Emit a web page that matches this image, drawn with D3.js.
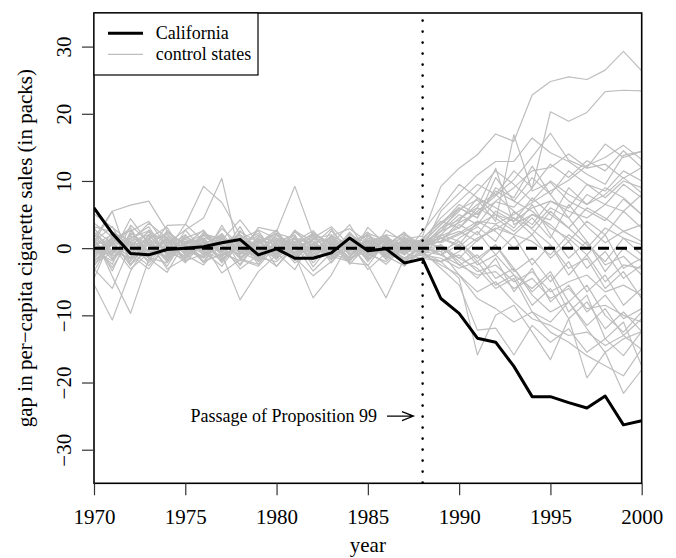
<!DOCTYPE html>
<html>
<head>
<meta charset="utf-8">
<script src="https://cdn.jsdelivr.net/npm/d3@7"></script>
<style>
  html, body { margin: 0; padding: 0; background: #fff; }
  svg { display: block; }
  text { font-family: "Liberation Serif", "Times New Roman", serif; fill: #000; }
</style>
</head>
<body>
<svg id="chart" width="676" height="558"></svg>
<script>
const years = d3.range(1970, 2001);
const xTicks = [1970, 1975, 1980, 1985, 1990, 1995, 2000];
const yTicks = [-30, -20, -10, 0, 10, 20, 30];
const treatYear = 1988;

const californiaGap = [6.0, 2.2, -0.8, -1.0, -0.2, 0.0, 0.2, 0.8, 1.3, -1.0, -0.1, -1.5, -1.5, -0.7, 1.5, -0.4, -0.1, -2.2, -1.6,
  -7.5, -9.7, -13.4, -14.0, -17.6, -22.1, -22.1, -23.0, -23.8, -22.0, -26.3, -25.7];

const controlGaps = [
  [3.2,2.4,1.0,-0.5,-1.2,0.8,2.0,1.5,-1.5,0.6,2.2,1.4,-0.6,1.8,2.9,0.9,2.0,1.4,1.8, 9.2,11.9,13.9,17.0,15.9,22.8,24.8,25.5,25.1,26.5,29.3,26.4],
  [-2.0,0.9,3.0,-1.2,1.6,-0.7,0.5,2.1,-2.6,1.1,0.6,-1.6,2.4,0.4,-1.3,1.8,0.8,-0.6,0.8, 2.5,3.8,5.2,6.9,6.1,8.9,20.3,18.9,20.2,23.3,23.5,23.4],
  [1.4,-3.4,2.5,4.0,0.3,-2.2,1.2,-0.7,3.2,-1.4,0.9,2.0,-2.8,0.6,3.5,-0.9,1.6,-1.9,1.0, 3.5,5.8,7.2,4.0,16.9,8.5,9.8,7.0,5.6,4.1,7.3,5.0],
  [-4.5,1.7,-1.0,-3.1,0.7,2.7,-0.4,1.4,-1.6,-2.4,1.0,0.4,2.2,-1.2,-2.0,1.5,-0.9,0.6,-0.4, 1.8,3.0,5.5,7.8,10.2,13.6,17.1,13.1,11.9,12.5,10.4,12.0],
  [2.8,0.7,-2.0,1.5,3.1,-1.0,-2.5,0.7,2.0,0.2,-1.4,2.6,1.0,-1.7,0.5,2.4,-1.5,1.0,-0.2, 5.5,8.2,10.9,12.9,12.9,16.4,14.2,12.9,11.0,9.5,13.8,14.4],
  [0.9,5.5,-2.5,1.4,-0.5,3.6,1.0,-2.0,1.5,-0.7,2.6,-1.4,0.4,2.9,-1.0,0.7,1.9,-2.2,0.6, 2.0,4.5,6.0,11.9,3.5,5.0,4.2,9.0,6.5,8.0,10.5,8.2],
  [-0.7,1.5,0.5,-1.9,2.4,0.4,-1.4,3.4,-0.9,1.2,-2.7,0.7,1.7,-0.5,1.0,-1.7,0.4,2.2,0.4, 1.0,2.2,4.0,3.6,5.0,6.8,8.5,10.1,12.3,13.5,15.3,13.2],
  [2.0,-0.9,4.4,0.7,-2.7,1.5,2.6,-1.2,0.4,1.9,-0.7,-3.2,1.4,0.9,-1.5,3.1,0.5,-1.0,1.5, 3.8,6.0,4.5,9.0,7.5,12.2,8.0,4.5,1.0,-2.5,-1.2,-4.0],
  [-3.1,-6.0,0.4,-1.5,-3.6,1.0,-0.5,-2.7,0.9,-1.4,-2.0,0.5,-3.4,-0.7,-1.9,0.4,-1.2,-2.6,-0.3, 0.5,-1.5,1.2,3.0,2.0,4.5,1.5,6.5,3.2,0.8,2.5,1.0],
  [5.1,3.1,0.9,3.7,1.5,-0.4,2.2,1.2,4.2,0.7,2.7,-0.9,1.5,3.2,0.4,1.9,-0.5,1.4,0.6, -1.0,1.5,3.2,1.0,5.5,2.8,0.5,-3.0,-1.5,-6.0,-3.5,-7.5],
  [-1.5,1.0,-2.4,-0.4,1.4,-1.9,-0.9,0.5,-3.1,-1.0,0.7,-2.2,-0.4,1.2,-1.5,-0.5,-2.4,0.4,-0.8, -2.5,-4.0,-6.5,-5.0,-8.0,-10.5,-11.5,-13.0,-12.5,-14.5,-13.0,-15.1],
  [0.7,-2.9,1.5,2.6,-1.0,0.4,-2.0,1.7,-0.7,1.4,-1.5,0.9,2.0,-1.2,0.5,-2.6,1.0,-0.4,-0.5, -3.0,-5.5,-12.2,-11.9,-15.9,-11.5,-14.0,-12.0,-15.5,-13.5,-16.0,-12.4],
  [-5.4,-10.7,-3.4,0.9,-3.1,-1.5,0.7,-3.7,-1.7,-2.7,0.5,-1.4,-4.1,-2.0,1.0,-3.2,-0.7,-1.9,-0.6, -2.0,-4.5,-15.9,-10.0,-8.5,-12.5,-16.6,-10.5,-19.3,-15.5,-21.6,-18.1],
  [1.7,-4.2,-9.7,-1.7,1.4,-0.9,2.0,-0.5,1.0,-2.4,1.5,0.4,-1.4,2.6,-0.4,1.2,-1.7,0.7,0.9, 0.2,-2.0,-4.5,-1.5,-6.5,-3.0,-8.0,-5.5,-9.5,-7.0,-10.5,-9.0],
  [0.5,2.0,-0.7,1.5,-1.9,2.7,4.5,10.4,-1.4,0.9,-0.4,2.4,0.2,-1.5,1.4,0.4,1.7,-0.9,0.7, 1.5,0.2,2.5,-1.0,1.8,-2.5,0.5,-4.0,-1.0,-5.0,-2.5,-3.0],
  [-1.0,1.4,2.6,-0.5,3.4,3.5,9.2,6.8,2.0,-0.7,1.5,-1.2,2.2,0.7,-1.7,1.0,-0.5,2.0,0.2, 3.0,4.2,6.5,8.0,5.5,3.5,7.0,6.0,9.5,8.5,11.5,10.0],
  [2.4,-0.4,1.0,-2.2,0.9,-1.4,1.9,0.5,-1.0,3.1,2.5,9.2,1.7,-0.7,1.5,-2.0,0.9,1.4,-0.3, -0.5,1.0,-2.0,0.5,-3.5,-1.5,-5.0,-2.0,-6.5,-4.0,-8.5,-6.0],
  [-2.6,0.7,-1.4,1.9,-0.7,1.5,-2.0,-0.9,-7.7,-3.5,-1.0,1.4,-0.4,1.7,-2.4,0.5,-1.2,0.9,-1.2, -2.0,-0.5,1.5,2.8,4.5,3.0,6.0,4.5,8.0,6.5,9.5,7.5],
  [1.2,-1.7,2.2,0.4,-1.5,0.7,1.4,-2.2,0.9,-0.4,2.0,-1.0,-7.4,-4.0,0.9,-1.4,1.9,-0.5,0.4, 1.0,3.5,2.0,5.5,4.0,7.5,5.0,3.0,6.0,4.5,2.5,3.5],
  [-0.5,1.0,-2.6,1.4,2.0,-1.0,0.5,1.9,-1.5,1.0,-0.7,1.7,-1.2,0.4,-2.2,-2.5,-7.4,-1.5,0.5, 2.5,6.0,4.5,10.5,7.0,5.5,3.0,1.5,-1.0,2.0,-3.0,-1.5],
  [1.5,5.5,6.4,7.0,2.6,-0.5,1.4,-1.7,0.7,2.2,-0.9,1.0,2.6,-0.4,1.5,-1.2,0.4,2.4,-0.9, 0.5,-2.5,-1.0,-4.5,-3.0,-7.0,-9.5,-8.0,-11.5,-9.0,-13.0,-10.5],
  [-1.9,0.5,1.5,-1.0,2.6,0.4,-1.5,1.0,1.7,-2.0,0.7,1.4,-0.9,1.9,0.5,-1.4,2.7,0.9,1.2, 4.5,7.0,9.5,8.0,11.5,9.0,12.5,10.5,13.0,11.5,14.5,12.0],
  [3.7,1.7,-0.9,2.7,0.5,-1.5,2.4,0.4,-1.0,1.7,0.9,-1.9,1.4,2.0,-0.7,1.0,0.0,-1.5,-1.0, -1.5,-3.0,-2.0,-5.5,-4.0,-8.5,-6.0,-10.5,-8.0,-12.0,-9.5,-12.4],
  [0.0,-2.4,3.4,0.9,-1.4,2.0,-0.7,2.9,0.5,-1.5,1.0,1.9,-2.2,0.7,-0.4,2.2,1.2,-1.0,2.5, 6.0,9.5,7.5,5.0,3.0,6.5,2.0,-1.5,1.0,-3.5,0.0,-2.0],
  [-3.4,1.2,-0.5,-2.6,0.4,-1.2,0.9,-1.9,1.5,-0.7,-2.7,0.2,1.0,-1.7,0.7,-0.9,-2.0,0.5,-0.8, 1.5,0.5,4.0,2.5,0.0,2.0,-1.5,1.0,-3.0,-0.5,-4.5,-2.5],
  [3.1,-1.5,0.7,-1.0,1.7,0.9,-2.2,1.5,-0.4,1.0,2.2,-0.9,0.5,-1.4,2.0,0.7,-1.0,1.5,0.3, 3.0,5.5,8.5,11.5,9.5,7.0,10.0,8.0,6.5,9.0,7.5,5.0],
  [1.0,3.2,-1.7,0.5,-0.7,1.7,0.4,-1.4,2.4,0.9,-1.0,0.5,-1.7,1.5,0.2,-0.7,1.4,-2.7,0.2, -1.0,-2.5,-4.0,-3.5,-6.0,-4.5,-7.5,-6.0,-9.0,-8.5,-10.0,-11.0],
  [-2.2,-0.7,1.4,3.2,-1.2,0.7,1.5,-1.0,0.4,-1.7,1.2,0.7,-0.5,1.7,-1.0,0.9,-0.4,1.0,1.0, 0.8,2.0,3.5,5.0,4.0,6.0,7.0,5.5,4.5,6.5,5.5,8.0],
  [0.4,1.4,-1.0,2.0,1.5,-0.4,-1.4,0.9,1.9,-0.7,0.5,1.5,-0.9,0.4,1.2,-1.7,0.7,0.0,-0.4, 2.0,1.0,-1.5,0.5,-3.0,-6.5,-4.0,-9.5,-7.0,-13.5,-11.0,-17.5],
  [-1.7,-0.4,0.9,-1.4,-2.2,0.7,-0.9,1.7,-0.5,-1.9,0.4,1.0,-1.2,-0.7,1.4,-1.0,0.5,-1.5,0.1, -0.5,-4.0,-7.5,-9.0,-11.0,-9.5,-12.5,-14.0,-16.0,-17.5,-19.0,-15.0],
  [0.9,-1.0,1.9,-0.4,1.2,-2.0,0.7,-0.5,1.4,2.6,-1.4,0.4,1.0,-0.9,2.4,-0.5,1.5,0.4,0.6, 1.5,2.5,1.0,3.5,2.0,1.0,-1.0,2.0,0.0,3.0,1.5,0.5],
  [-1.4,2.4,0.4,1.2,-1.7,0.5,2.7,-0.7,-1.9,1.4,0.4,-0.5,1.9,0.9,-1.4,1.5,0.7,-0.4,1.4, 4.0,3.0,6.0,4.5,2.5,5.0,3.5,1.0,4.0,2.0,5.5,3.0],
  [1.9,0.4,-3.1,-0.7,1.0,-0.2,-1.2,2.2,-0.9,0.4,-1.7,1.5,0.5,-1.0,1.7,0.2,-0.7,-1.4,-1.5, -2.0,-1.0,-3.5,-2.5,-5.0,-3.5,-6.5,-5.0,-4.0,-6.5,-5.5,-7.0],
  [-0.4,-1.9,1.0,2.0,-0.9,1.4,-0.5,-1.7,1.2,0.5,-1.0,2.7,-0.2,0.7,-1.9,1.2,0.4,0.9,-0.2, 2.5,5.0,3.5,7.0,9.0,11.5,12.0,14.0,12.0,15.5,13.5,14.4],
  [1.5,-0.5,-1.5,0.7,2.2,-0.7,1.0,-0.4,-2.4,1.5,-0.5,-1.2,0.7,1.4,-0.9,-0.2,1.0,-0.7,-1.6, 0.0,-1.5,-3.0,-6.0,-4.5,-9.5,-11.0,-8.0,-12.0,-15.5,-13.5,-12.4],
  [-0.9,0.7,2.7,-1.5,0.4,1.9,-1.0,0.7,-0.4,2.7,1.4,-0.7,1.5,-2.2,0.9,2.0,-0.9,1.2,0.3, 1.0,4.0,7.5,6.0,4.5,2.0,5.5,3.0,0.5,-2.0,1.5,-1.0],
  [0.5,-1.2,0.4,2.4,-0.5,-1.7,1.5,1.0,-0.7,-1.0,1.9,0.5,-1.5,1.0,-0.4,0.9,-1.4,1.7,-0.5, -1.0,0.5,-2.5,-1.0,-4.0,-6.0,-3.5,-8.0,-5.5,-10.0,-12.5,-9.5],
  [-2.7,1.9,-0.4,0.9,-2.0,1.0,0.2,-1.2,2.6,-0.5,1.5,-1.7,0.7,-1.0,2.2,-0.7,1.2,-0.2,0.8, 3.5,6.5,5.0,8.5,7.0,10.5,8.0,11.5,9.5,7.5,10.0,9.0]
];

const legendLabels = ["California", "control states"];
const xTitle = "year";
const yTitle = "gap in per\u2212capita cigarette sales (in packs)";
const annotation = "Passage of Proposition 99";
const annotationY = -25;

const svg = d3.select("#chart");
const L = 94, R = 641.7, T = 13, B = 483.3;
const SERIF = "'Liberation Serif', 'Times New Roman', serif";

const x = d3.scaleLinear().domain([1970, 2000]).range([L, R]);
const y = d3.scaleLinear().domain([-35, 35]).range([B, T]);

const line = d3.line().x((d, i) => x(years[i])).y(d => y(d));

svg.append("clipPath").attr("id", "plotclip")
  .append("rect").attr("x", L).attr("y", T).attr("width", R - L).attr("height", B - T);

const plot = svg.append("g").attr("clip-path", "url(#plotclip)");

plot.selectAll("path.ctrl").data(controlGaps).join("path")
  .attr("class", "ctrl")
  .attr("d", line)
  .attr("fill", "none")
  .attr("stroke", "#bebebe")
  .attr("stroke-width", 1.2)
  .attr("stroke-linejoin", "round");

plot.append("path")
  .attr("d", line(californiaGap))
  .attr("fill", "none")
  .attr("stroke", "#000")
  .attr("stroke-width", 3)
  .attr("stroke-linejoin", "round");

// zero dashed line
plot.append("line")
  .attr("x1", L).attr("x2", R).attr("y1", y(0)).attr("y2", y(0))
  .attr("stroke", "#000").attr("stroke-width", 3)
  .attr("stroke-dasharray", "11 7");

// treatment dotted line
plot.append("line")
  .attr("x1", x(treatYear)).attr("x2", x(treatYear)).attr("y1", T + 7.5).attr("y2", B)
  .attr("stroke", "#000").attr("stroke-width", 2.6)
  .attr("stroke-linecap", "round")
  .attr("stroke-dasharray", "0.1 10.9");

// annotation
svg.append("text")
  .attr("x", x(1985.5)).attr("y", y(annotationY) + 6)
  .attr("text-anchor", "end")
  .style("font-family", SERIF)
  .style("font-size", "18px")
  .text(annotation);

const ax0 = x(1986.05), ax1 = x(1987.5), ay = y(annotationY);
svg.append("path")
  .attr("d", `M${ax0},${ay}L${ax1},${ay}M${ax1 - 11.5},${ay - 4.5}L${ax1},${ay}L${ax1 - 11.5},${ay + 4.5}`)
  .attr("fill", "none").attr("stroke", "#000").attr("stroke-width", 1.2);

// box
svg.append("rect")
  .attr("x", L).attr("y", T).attr("width", R - L).attr("height", B - T)
  .attr("fill", "none").attr("stroke", "#000").attr("stroke-width", 1.6);

// x axis
const xAxis = svg.append("g").attr("transform", `translate(0,${B})`)
  .call(d3.axisBottom(x).tickValues(xTicks).tickFormat(d3.format("d")).tickSize(12).tickPadding(14));
xAxis.select(".domain").remove();
xAxis.selectAll("line").attr("stroke", "#333").attr("stroke-width", 1.2);
xAxis.selectAll("text").style("font-size", "21px").style("font-family", SERIF).attr("fill", "#000");

// y axis
const yAxis = svg.append("g").attr("transform", `translate(${L},0)`)
  .call(d3.axisLeft(y).tickValues(yTicks).tickSize(12).tickFormat(d => d < 0 ? "\u2212" + Math.abs(d) : d));
yAxis.select(".domain").remove();
yAxis.selectAll("line").attr("stroke", "#333").attr("stroke-width", 1.2);
yAxis.selectAll("text")
  .attr("x", null).attr("dy", null)
  .attr("text-anchor", "middle")
  .attr("transform", "translate(-23.5,0) rotate(-90)")
  .style("font-size", "21px").style("font-family", SERIF).attr("fill", "#000");

// axis titles
svg.append("text")
  .attr("x", (L + R) / 2).attr("y", 552)
  .attr("text-anchor", "middle").style("font-size", "21px").style("font-family", SERIF)
  .text(xTitle);

svg.append("text")
  .attr("transform", `translate(32,${y(0)}) rotate(-90)`)
  .attr("text-anchor", "middle").style("font-size", "21px").style("font-family", SERIF)
  .text(yTitle);

// legend
const leg = svg.append("g");
leg.append("rect").attr("x", L).attr("y", T).attr("width", 258 - L).attr("height", 75 - T)
  .attr("fill", "#fff").attr("stroke", "#000").attr("stroke-width", 1.2);
const legStyles = [{c: "#000", w: 3}, {c: "#bebebe", w: 1.2}];
legendLabels.forEach((lab, i) => {
  const ly = 33.3 + i * 21;
  leg.append("line").attr("x1", 108).attr("x2", 143).attr("y1", ly).attr("y2", ly)
    .attr("stroke", legStyles[i].c).attr("stroke-width", legStyles[i].w);
  leg.append("text").attr("x", 155.7).attr("y", ly + 6)
    .style("font-family", SERIF).style("font-size", "18px").text(lab);
});
</script>
</body>
</html>
